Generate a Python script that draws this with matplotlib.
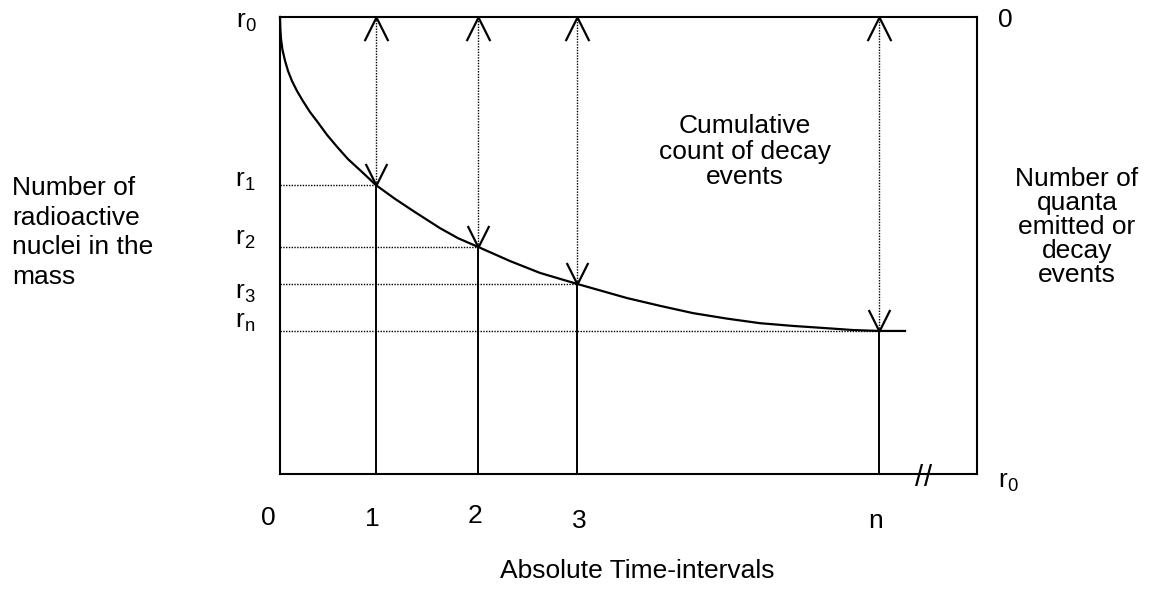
import matplotlib
matplotlib.use("Agg")
import matplotlib.pyplot as plt
from matplotlib.transforms import Bbox

plt.rcParams["font.family"] = ["Liberation Sans", "DejaVu Sans"]
plt.rcParams["mathtext.fontset"] = "custom"
plt.rcParams["mathtext.rm"] = "Liberation Sans"
plt.rcParams["mathtext.it"] = "Liberation Sans:italic"

# decay curve (time in intervals, nuclei as fraction of r0)
curve_t = [0.0, 0.003, 0.010, 0.025, 0.051, 0.081, 0.121, 0.172, 0.232, 0.303,
           0.384, 0.475, 0.576, 0.687, 0.818, 0.970, 1.162, 1.364, 1.616, 1.798,
           2.0, 2.323, 2.626, 3.0, 3.505, 3.838, 4.172, 4.515, 4.848, 5.182,
           5.525, 5.788, 6.051, 6.313]
curve_r = [1.0, 0.976, 0.952, 0.928, 0.904, 0.882, 0.860, 0.838, 0.816, 0.792,
           0.769, 0.742, 0.716, 0.689, 0.663, 0.632, 0.602, 0.573, 0.538, 0.516,
           0.497, 0.466, 0.440, 0.416, 0.385, 0.368, 0.352, 0.340, 0.330, 0.324,
           0.319, 0.315, 0.313, 0.313]

# marked time intervals and the nuclei left at each
event_t = [0.97, 2.0, 3.0, 6.05]
event_r = [0.632, 0.497, 0.416, 0.313]
event_labels = ["1", "2", "3", "n"]
r_labels = [r"$\mathrm{r_1}$", r"$\mathrm{r_2}$", r"$\mathrm{r_3}$", r"$\mathrm{r_n}$"]
t_max = 7.04

FS = 19
W, H = 1155, 590

fig = plt.figure(figsize=(W / 100, H / 100), dpi=100)
ax = fig.add_axes([280 / W, 116 / H, 697 / W, 457 / H])
ax.set_xlim(0, t_max)
ax.set_ylim(0, 1)
ax.set_xticks([])
ax.set_yticks([])
for s in ax.spines.values():
    s.set_linewidth(1.5)

# open arrowheads as custom markers (tip sits on the data point)
head_up = [(-0.5, -1), (0, 0), (0.5, -1)]
head_down = [(-0.5, 1), (0, 0), (0.5, 1)]
dots = (0, (1, 1))

# decay curve
ax.plot(curve_t, curve_r, color="black", lw=1.6, solid_joinstyle="round", clip_on=False)

for t, r in zip(event_t, event_r):
    # solid drop line from the time axis to the curve
    ax.plot([t, t], [0, r], color="black", lw=1.4)
    # dotted count line from the curve up to the top
    ax.plot([t, t], [r, 1], color="black", lw=1.0, linestyle=dots)
    # dotted level line back to the left axis
    ax.plot([0, t], [r, r], color="black", lw=1.0, linestyle=dots)
    ax.plot([t], [1], marker=head_up, ms=34, mfc="none", mec="black", mew=1.6,
            color="black", clip_on=False)
    ax.plot([t], [r], marker=head_down, ms=31, mfc="none", mec="black", mew=1.6,
            color="black", clip_on=False)

# left r labels
ax.annotate(r"$\mathrm{r_0}$", xy=(0, 1), xytext=(-34, -5), textcoords="offset pixels",
            ha="center", va="center", fontsize=FS, annotation_clip=False)
r_offsets = [4, 8, -9, 9]
for r, lab, dy in zip(event_r, r_labels, r_offsets):
    ax.annotate(lab, xy=(0, r), xytext=(-35, dy), textcoords="offset pixels",
                ha="center", va="center", fontsize=FS, annotation_clip=False)

# time labels
ax.annotate("0", xy=(0, 0), xytext=(-12, -44), textcoords="offset pixels",
            ha="center", va="center", fontsize=FS, annotation_clip=False)
t_offsets = [(-4, -45), (-3, -42), (2, -47), (-3, -47)]
for t, lab, (dx, dy) in zip(event_t, event_labels, t_offsets):
    ax.annotate(lab, xy=(t, 0), xytext=(dx, dy), textcoords="offset pixels",
                ha="center", va="center", fontsize=FS, annotation_clip=False)

# right-hand scale (cumulative count)
ax.annotate("0", xy=(t_max, 1), xytext=(28, -3), textcoords="offset pixels",
            ha="center", va="center", fontsize=FS, annotation_clip=False)
ax.annotate(r"$\mathrm{r_0}$", xy=(t_max, 0), xytext=(31, -8), textcoords="offset pixels",
            ha="center", va="center", fontsize=FS, annotation_clip=False)

# axis break mark
for dx in (-4.5, 4.5):
    ax.annotate("/", xy=(6.5, 0), xytext=(dx, -4), textcoords="offset pixels",
                ha="center", va="center", fontsize=21, annotation_clip=False)

fig.text(745 / W, 1 - 114 / H, "Cumulative\ncount of decay\nevents",
         ha="center", va="top", fontsize=FS, multialignment="center", linespacing=1.08)

left = fig.text(12 / W, 1 - 176 / H, "Number of\nradioactive\nnuclei in the\nmass",
                ha="left", va="top", fontsize=FS, linespacing=1.3)
left.set_clip_box(Bbox.from_extents(0, H - 287, 270, H))
left.set_clip_on(True)

fig.text(1077 / W, 1 - 167 / H, "Number of\nquanta\nemitted or\ndecay\nevents",
         ha="center", va="top", fontsize=FS, multialignment="center", linespacing=1.0)

fig.text(637 / W, 1 - 571 / H, "Absolute Time-intervals", ha="center", va="center", fontsize=FS)

fig.savefig("out.png", dpi=100, facecolor="white")
